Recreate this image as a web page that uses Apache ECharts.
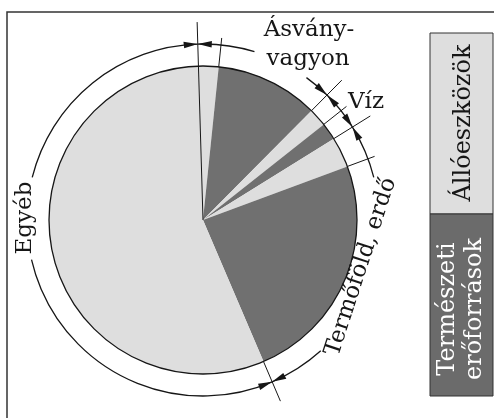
<!DOCTYPE html>
<html>
<head>
<meta charset="utf-8">
<script src="https://cdn.jsdelivr.net/npm/echarts@6/dist/echarts.min.js"></script>
<style>
  html, body { margin: 0; padding: 0; background: #fff; }
  #chart { width: 494px; height: 418px; }
</style>
</head>
<body>
<div id="chart"></div>
<script>
// csoportok (óramutató járása szerint, felülről indulva)
const categories = ['Ásványvagyon', 'Víz', 'Termőföld, erdő', 'Egyéb'];
// részesedés, %
const alloeszkozok = [2.1, 1.9, 3.2, 55.9];
const termeszeti = [10.8, 1.8, 24.2, 0];
const legendLabels = ['Állóeszközök', 'Természeti\nerőforrások'];
const startDeg = -1.7; // első határvonal iránya, fokban a függőlegestől

const LIGHT = '#dedede', DARK = '#707070', INK = '#161616';
const FONT = '"DejaVu Serif", serif';
const C = [203, 220], R = 154, RA = 176;

const chart = echarts.init(document.getElementById('chart'));

// szeletek
const pieData = [];
categories.forEach((c, i) => {
    pieData.push({ name: c + ' (állóeszköz)', value: alloeszkozok[i], itemStyle: { color: LIGHT } });
    if (termeszeti[i] > 0) pieData.push({ name: c + ' (természeti)', value: termeszeti[i], itemStyle: { color: DARK } });
});

// határszögek az adatokból
const total = pieData.reduce((s, d) => s + d.value, 0);
const groupStart = [], innerBound = [];
let acc = startDeg;
categories.forEach((c, i) => {
    groupStart.push(acc);
    acc += alloeszkozok[i] / total * 360;
    if (termeszeti[i] > 0) {
        innerBound.push(acc);
        acc += termeszeti[i] / total * 360;
    }
});
const groupEnd = groupStart.slice(1).concat([startDeg + 360]);

const rad = d => d * Math.PI / 180;
const pt = (deg, r) => [C[0] + r * Math.sin(rad(deg)), C[1] - r * Math.cos(rad(deg))];

const g = [];
const line = (a, r0, r1) => {
    const p = pt(a, r0), q = pt(a, r1);
    g.push({ type: 'line', z: 100, shape: { x1: p[0], y1: p[1], x2: q[0], y2: q[1] }, style: { stroke: INK, lineWidth: 1 } });
};
const arc = (a0, a1) => g.push({
    type: 'arc', z: 100,
    shape: { cx: C[0], cy: C[1], r: RA, startAngle: rad(a0 - 90), endAngle: rad(a1 - 90), clockwise: true },
    style: { stroke: INK, fill: null, lineWidth: 1.3 }
});
const arrow = (a, dir) => {
    const d = 14 / RA * 180 / Math.PI * dir;
    g.push({ type: 'polygon', z: 100, shape: { points: [pt(a, RA), pt(a + d, RA - 3.3), pt(a + d, RA + 3.3)] }, style: { fill: INK } });
};

// kerület
g.push({ type: 'circle', z: 90, shape: { cx: C[0], cy: C[1], r: R }, style: { fill: null, stroke: INK, lineWidth: 1.3 } });

// határvonalak
line(startDeg, 0, 198);
groupStart.slice(1).forEach(a => line(a, R, 197));
innerBound.forEach(a => line(a, R, 183));

// méretívek, a feliratoknak hagyott résekkel
const gaps = [[17, 36], null, [76, 138], [257, 284]];
categories.forEach((c, i) => {
    const a0 = groupStart[i], a1 = groupEnd[i];
    if (gaps[i]) { arc(a0, gaps[i][0]); arc(gaps[i][1], a1); } else arc(a0, a1);
    arrow(a0, 1);
    arrow(a1, -1);
});

const txt = (s, x, y, rot, size, color) => g.push({
    type: 'text', z: 110, x: x, y: y, rotation: rad(rot || 0),
    style: { text: s, font: (size || 23) + 'px ' + FONT, fill: color || INK, align: 'center', verticalAlign: 'middle', lineHeight: 27 }
});
txt('Ásvány-', 309, 30);
txt('vagyon', 308, 59);
txt(categories[1], 366, 102);
txt(categories[2], 361, 267, 72);
txt(categories[3], 25, 218, 90);

// keret
g.push({ type: 'polyline', z: 100, shape: { points: [[7, 420], [7, 12], [496, 12]] }, style: { stroke: '#333', lineWidth: 1.5, fill: null } });

// jelmagyarázat
g.push({ type: 'rect', z: 100, shape: { x: 430, y: 33, width: 63, height: 181 }, style: { fill: LIGHT, stroke: '#333', lineWidth: 1 } });
g.push({ type: 'rect', z: 100, shape: { x: 430, y: 214, width: 63, height: 182 }, style: { fill: '#6b6b6b', stroke: '#333', lineWidth: 1 } });
txt(legendLabels[0], 464, 123, 90, 24);
txt(legendLabels[1], 461, 309, 90, 24, '#fff');

chart.setOption({
    animation: false,
    graphic: g,
    series: [{
        type: 'pie',
        silent: true,
        center: C,
        radius: [0, R],
        startAngle: 90 - startDeg,
        clockwise: true,
        label: { show: false },
        labelLine: { show: false },
        itemStyle: { borderWidth: 0 },
        data: pieData
    }]
});
</script>
</body>
</html>
